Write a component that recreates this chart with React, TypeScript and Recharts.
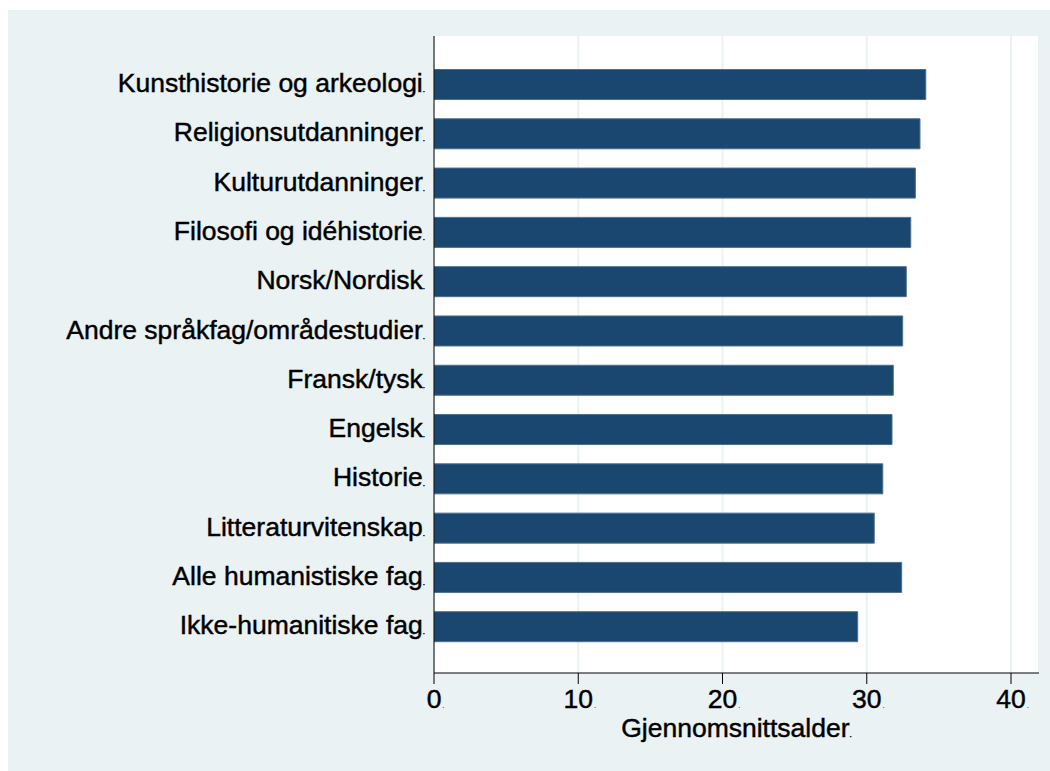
import { BarChart, Bar, XAxis, YAxis, CartesianGrid } from "recharts";

const fields = [
  "Kunsthistorie og arkeologi",
  "Religionsutdanninger",
  "Kulturutdanninger",
  "Filosofi og idéhistorie",
  "Norsk/Nordisk",
  "Andre språkfag/områdestudier",
  "Fransk/tysk",
  "Engelsk",
  "Historie",
  "Litteraturvitenskap",
  "Alle humanistiske fag",
  "Ikke-humanitiske fag",
];
const meanAge = [34.09, 33.69, 33.37, 33.05, 32.74, 32.49, 31.84, 31.75, 31.11, 30.52, 32.42, 29.37];
const xTicks = [0, 10, 20, 30, 40];
const xTitle = "Gjennomsnittsalder";

const data = fields.map((name, i) => ({ name, age: meanAge[i] }));

const FONT = "'Liberation Sans', Arial, sans-serif";
const FS = 26.5;
const BG = "#eaf2f3";
const NAVY = "#1a476f";
// Stata's text renders a bit heavier than plain Liberation Sans
const heavy = { stroke: "#000", strokeWidth: 0.45 };

function YTick({ x, y, payload }: any) {
  return (
    <text x={x - 9} y={y + 8} textAnchor="end" fontFamily={FONT} fontSize={FS} fill="#000" {...heavy}>
      {payload.value}
      <tspan fontSize={8}>.</tspan>
    </text>
  );
}

function XTick({ x, y, payload }: any) {
  const s = String(payload.value);
  const w = s.length * FS * 0.556;
  return (
    <g>
      <text x={x} y={y + 22} textAnchor="middle" fontFamily={FONT} fontSize={FS} fill="#000" {...heavy}>
        {s}
      </text>
      <text x={x + w / 2 + 1} y={y + 22} fontFamily={FONT} fontSize={8} fill="#000">.</text>
    </g>
  );
}

function XTitle({ viewBox }: any) {
  const { x, y, width } = viewBox;
  return (
    <text x={x + width / 2} y={y + 64} textAnchor="middle" fontFamily={FONT} fontSize={FS} fill="#000" {...heavy}>
      {xTitle}
      <tspan fontSize={8}>.</tspan>
    </text>
  );
}

export default function App() {
  return (
    <div style={{ position: "fixed", left: 8, top: 10, width: 1042, height: 761, background: BG }}>
      <BarChart
        width={1042}
        height={761}
        data={data}
        layout="vertical"
        margin={{ top: 26, right: 11, bottom: 0, left: 0 }}
      >
        <CartesianGrid horizontal={false} stroke={BG} strokeWidth={2} fill="#ffffff" />
        <XAxis
          type="number"
          domain={[0, 41.94]}
          ticks={xTicks}
          height={98}
          stroke="#000"
          tickSize={11}
          tick={<XTick />}
          label={<XTitle />}
          allowDataOverflow
        />
        <YAxis
          type="category"
          dataKey="name"
          width={426}
          stroke="#000"
          tickLine={false}
          tickSize={0}
          tickMargin={0}
          interval={0}
          padding={{ top: 23.5, bottom: 22 }}
          tick={<YTick />}
        />
        <Bar dataKey="age" fill={NAVY} stroke="#4d6f8f" strokeWidth={1} barSize={30} isAnimationActive={false} />
      </BarChart>
    </div>
  );
}
